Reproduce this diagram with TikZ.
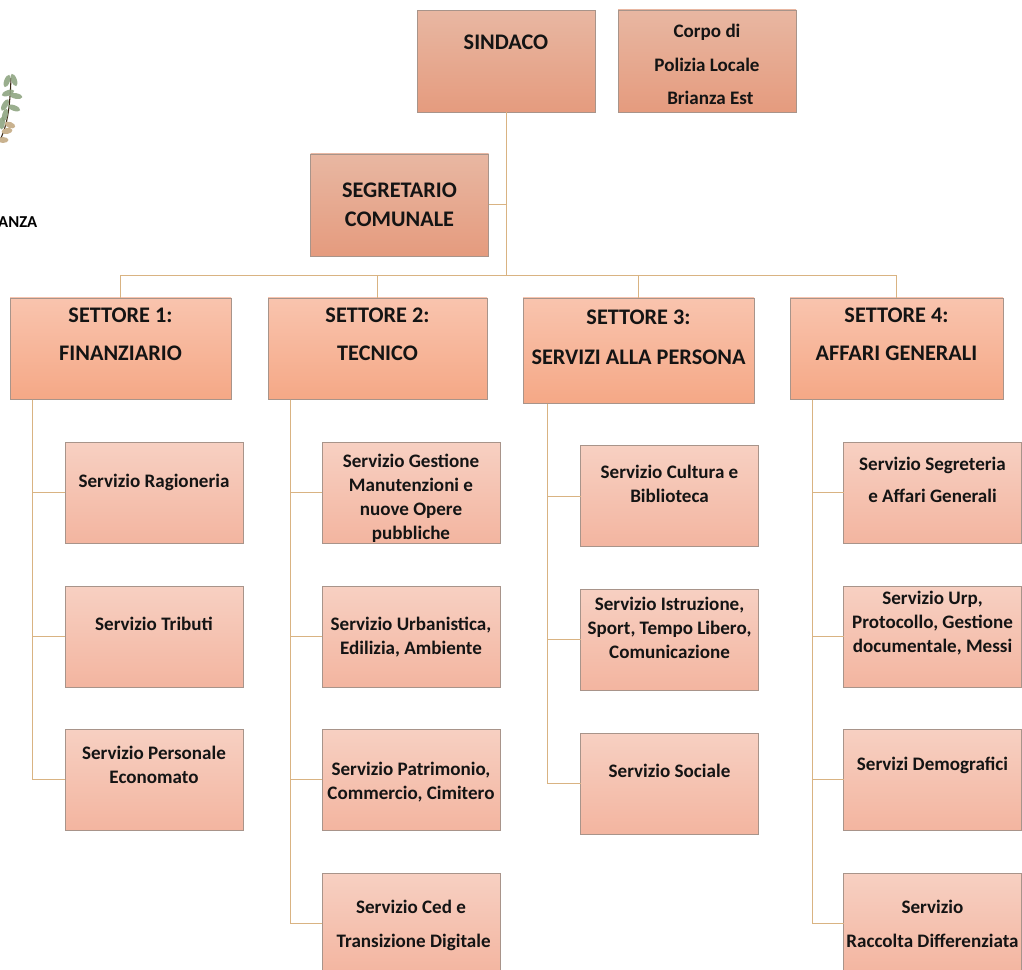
\documentclass[tikz,border=0pt]{standalone}
\usepackage{fontspec}
\setmainfont{Carlito}
\usetikzlibrary{shadows}
\definecolor{linkc}{HTML}{D9B382}
\definecolor{edgec}{HTML}{A8948A}
\definecolor{leafc}{HTML}{8FA582}
\definecolor{tanc}{HTML}{C9B28F}
\definecolor{capotop}{HTML}{E8B7A2}
\definecolor{capobot}{HTML}{E59B7E}
\definecolor{setttop}{HTML}{F9C4AE}
\definecolor{settbot}{HTML}{F5A886}
\definecolor{servtop}{HTML}{F7D0C2}
\definecolor{servbot}{HTML}{F3B5A0}
\tikzset{
  link/.style={linkc,line width=0.75pt},
  basebox/.style={draw=edgec,line width=0.7pt,align=center,inner sep=0pt,outer sep=0pt,text=black!92,
    drop shadow={shadow xshift=0.4pt,shadow yshift=-0.6pt,opacity=0.3,fill=black}},
  capo/.style n args={3}{basebox,minimum width=133.5pt,top color=capotop,bottom color=capobot,
    text height=#1,text depth=76.5pt-#1,font=\fontsize{#3}{#2}\selectfont\bfseries},
  sett/.style n args={4}{basebox,minimum width=#3,top color=setttop,bottom color=settbot,
    text height=#1,text depth=#4-#1,font=\fontsize{16.7}{#2}\selectfont\bfseries},
  serv/.style 2 args={basebox,minimum width=133.5pt,top color=servtop,bottom color=servbot,
    text height=#1,text depth=75.75pt-#1,font=\fontsize{14.3}{#2}\selectfont\bfseries},
  leaf/.style={fill=leafc,opacity=0.9}
}
\begin{document}
\begin{tikzpicture}[x=0.75pt,y=-0.75pt]
    \useasboundingbox (0,0) rectangle (1022,970);
    \clip (0,0) rectangle (1022,970);

    % Piece of the crest on the left edge
    \draw[black!70!brown,line width=0.8pt] (0,140) .. controls (8,124) and (10,105) .. (11,78);
    \foreach \px/\py/\ang in {14/80/-70,7/81/70,16/96/-10,8/93/20,5/105/60,14/108/-20,5/115/75,2/123/85}
        \fill[leaf,rotate around={\ang:(\px,\py)}] (\px,\py) ellipse (6.5 and 2.8);
    \foreach \px/\py/\ang in {10/125/-20,7/131/10,3/140/0}
        \fill[tanc,rotate around={\ang:(\px,\py)}] (\px,\py) ellipse (5.5 and 3);
    \node[font=\fontsize{12.5}{14}\selectfont\bfseries,inner sep=0pt,anchor=east] (crest) at (37.5,222) {ANZA};

    % Top of the chart
    \node[capo={29pt}{25pt}{16.7}] (sind) at (506,61.5) {SINDACO};
    \node[capo={71pt}{25pt}{14.3}] (pol) at (707,61) {Corpo di\\Polizia Locale\\\hspace*{5pt}Brianza Est};
    \node[capo={54.5pt}{21.5pt}{16.7}] (seg) at (399.5,205) {SEGRETARIO\\COMUNALE};

    % Four sectors
    \node[sett={46.5pt}{28.5pt}{165.75pt}{75.75pt}] (set1) at (120.5,348.5) {SETTORE 1:\\FINANZIARIO};
    \node[sett={46.5pt}{28.5pt}{164.25pt}{75.75pt}] (set2) at (377.5,348.5) {SETTORE 2:\\TECNICO};
    \node[sett={50pt}{30pt}{173.25pt}{78.75pt}] (set3) at (638.5,350.5) {SETTORE 3:\\SERVIZI ALLA PERSONA};
    \node[sett={46.5pt}{28.5pt}{159.75pt}{75.75pt}] (set4) at (896.5,348.5) {SETTORE 4:\\AFFARI GENERALI};

    % Services of sector 1
    \node[serv={34pt}{18pt}] (sv11) at (154,492.5) {Servizio Ragioneria};
    \node[serv={33pt}{18pt}] (sv12) at (154,636.5) {Servizio Tributi};
    \node[serv={41pt}{18pt}] (sv13) at (154,779.5) {Servizio Personale\\Economato};

    % Services of sector 2
    \node[serv={73pt}{18pt}] (sv21) at (411,492.5) {Servizio Gestione\\Manutenzioni e\\nuove Opere\\pubbliche};
    \node[serv={51pt}{18pt}] (sv22) at (411,636.5) {Servizio Urbanistica,\\Edilizia, Ambiente};
    \node[serv={52.5pt}{18pt}] (sv23) at (411,779.5) {Servizio Patrimonio,\\Commercio, Cimitero};
    \node[serv={56pt}{26pt}] (sv24) at (411,923.5) {Servizio Ced e\\\hspace*{4pt}Transizione Digitale};

    % Services of sector 3
    \node[serv={43pt}{18pt}] (sv31) at (669.5,496) {Servizio Cultura e\\Biblioteca};
    \node[serv={52pt}{18pt}] (sv32) at (669.5,639.5) {Servizio Istruzione,\\Sport, Tempo Libero,\\Comunicazione};
    \node[serv={33pt}{18pt}] (sv33) at (669.5,783.5) {Servizio Sociale};

    % Services of sector 4
    \node[serv={45pt}{24pt}] (sv41) at (932.5,492.5) {Servizio Segreteria\\e Affari Generali};
    \node[serv={50pt}{18pt}] (sv42) at (932.5,636.5) {Servizio Urp,\\Protocollo, Gestione\\documentale, Messi};
    \node[serv={31pt}{18pt}] (sv43) at (932.5,779.5) {Servizi Demografici};
    \node[serv={56pt}{26pt}] (sv44) at (932.5,923.5) {Servizio\\Raccolta Differenziata};

    % Junctions of the connectors
    \coordinate (bus) at (506,276);
    \coordinate (tr1) at (32,399.5);
    \coordinate (tr2) at (290,399.5);
    \coordinate (tr3) at (547,403.5);
    \coordinate (tr4) at (812,399.5);

    % Lines from the top
    \draw[link] (sind.south) -- (bus);
    \draw[link] (bus) |- (seg.east);
    \draw[link] (bus) -| (set1.north);
    \draw[link] (bus) -| (set2.north);
    \draw[link] (bus) -| (set3.north);
    \draw[link] (bus) -| (set4.north);

    % Lines to the services
    \foreach \k in {1,2,3}
        \draw[link] (tr1) |- (sv1\k.west);
    \foreach \k in {1,2,3,4}
        \draw[link] (tr2) |- (sv2\k.west);
    \foreach \k in {1,2,3}
        \draw[link] (tr3) |- (sv3\k.west);
    \foreach \k in {1,2,3,4}
        \draw[link] (tr4) |- (sv4\k.west);
\end{tikzpicture}
\end{document}
